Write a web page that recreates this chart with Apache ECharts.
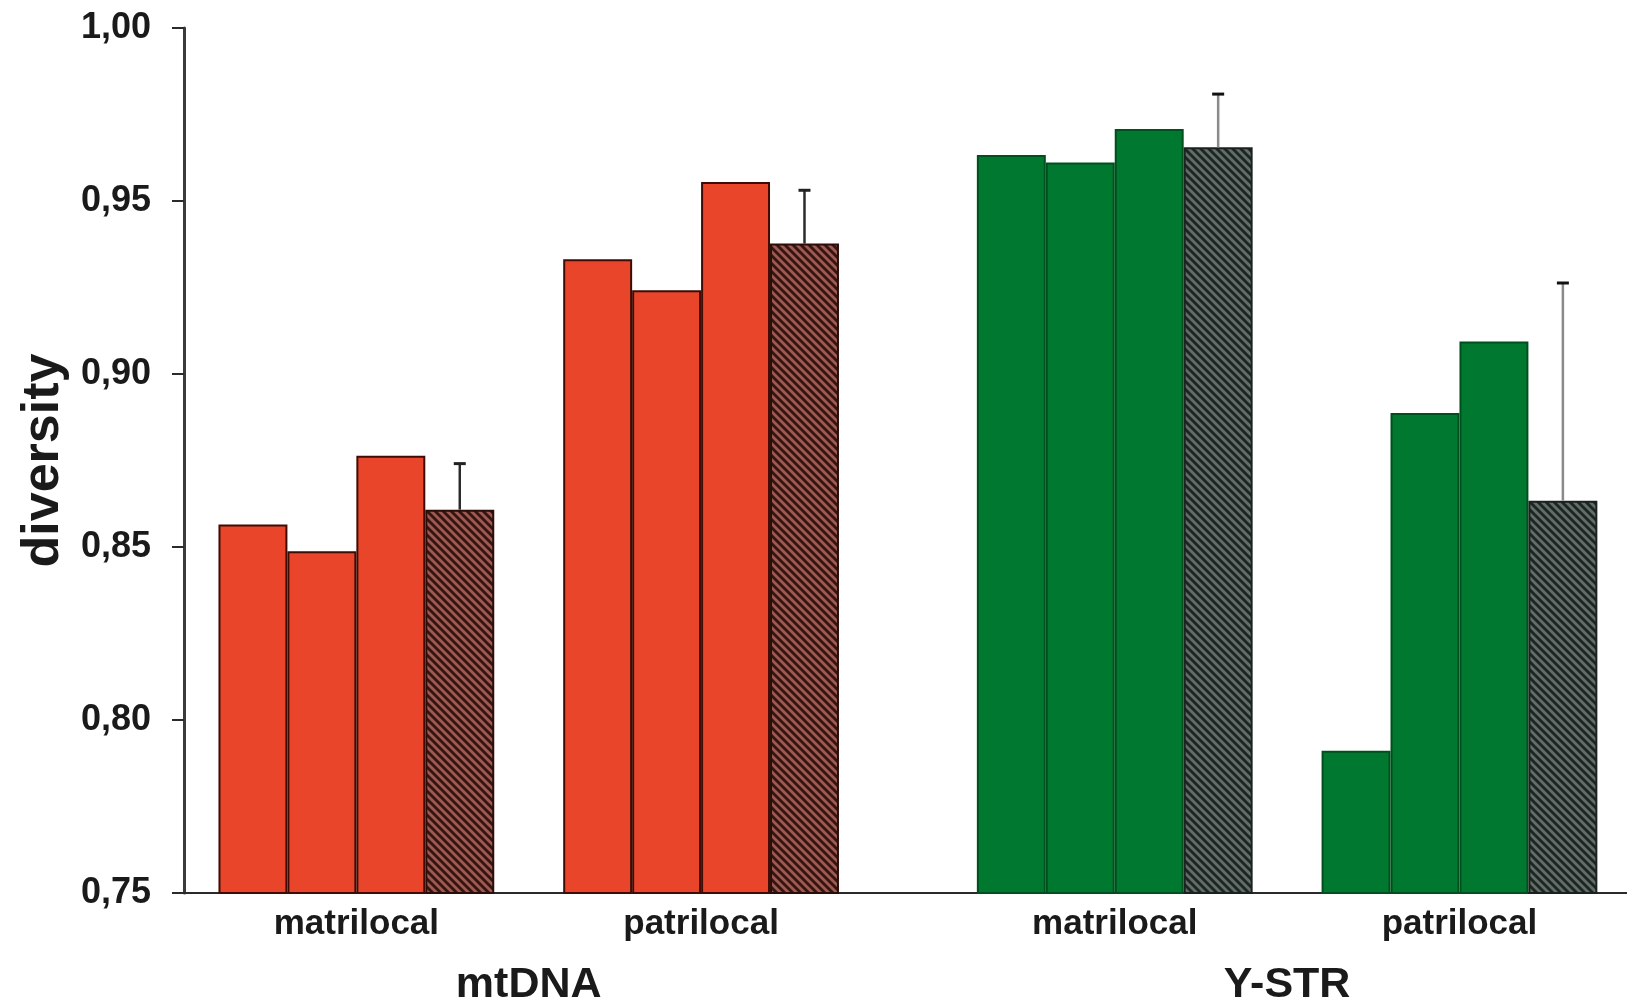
<!DOCTYPE html>
<html><head><meta charset="utf-8">
<script src="https://cdn.jsdelivr.net/npm/echarts@6/dist/echarts.min.js"></script>
<style>html,body{margin:0;padding:0;background:#fff}#c{width:1627px;height:1006px}</style>
</head><body><div id="c"></div>
<script>
// ---- data ----
const groupLabels = ['matrilocal', 'patrilocal', 'matrilocal', 'patrilocal'];
const markerLabels = ['mtDNA', 'Y-STR'];
const markerGroups = [[0, 1], [2, 3]];
const mtDNAMatrilocal = [0.8565, 0.8488, 0.8764, 0.8608];
const mtDNAPatrilocal = [0.9332, 0.9242, 0.9555, 0.9377];
const ySTRMatrilocal = [0.9633, 0.9611, 0.9708, 0.9655];
const ySTRPatrilocal = [0.7911, 0.8887, 0.9094, 0.8634];
const meanUpperError = [0.8741, 0.9531, 0.9809, 0.9263];
const yTickLabels = ['0,75', '0,80', '0,85', '0,90', '0,95', '1,00'];

// ---- layout / style ----
const groupValues = [mtDNAMatrilocal, mtDNAPatrilocal, ySTRMatrilocal, ySTRPatrilocal];
const groupStart = [0.5, 5.5, 11.5, 16.5];
const xMax = 20.93;
const yMin = 0.75, yMax = 1.0, yStep = 0.05;
const FONT = 'Liberation Sans, Arial, sans-serif';

function hatch(bg, fg) {
  const p = 8;
  const c = document.createElement('canvas');
  c.width = p; c.height = p;
  const ctx = c.getContext('2d');
  ctx.fillStyle = bg; ctx.fillRect(0, 0, p, p);
  ctx.strokeStyle = fg; ctx.lineWidth = 2.8;
  ctx.beginPath();
  for (let k = -1; k <= 1; k++) {
    ctx.moveTo(k * p - 1, -1); ctx.lineTo(k * p + p + 1, p + 1);
  }
  ctx.stroke();
  return { image: c, repeat: 'repeat' };
}

const redHatch = hatch('#341512', '#a05a52');
const greenHatch = hatch('#1d2622', '#646e68');
const palette = [
  { fill: '#e8452b', border: '#3f0c05', hatch: redHatch, hatchBorder: '#2a0d08', err: '#2b2b2b', cap: '#222' },
  { fill: '#e8452b', border: '#3f0c05', hatch: redHatch, hatchBorder: '#2a0d08', err: '#2b2b2b', cap: '#222' },
  { fill: '#00782f', border: '#00501e', hatch: greenHatch, hatchBorder: '#1a221e', err: '#8a8a8a', cap: '#111' },
  { fill: '#00782f', border: '#00501e', hatch: greenHatch, hatchBorder: '#1a221e', err: '#8a8a8a', cap: '#111' }
];

const barData = [];
const errData = [];
groupValues.forEach((vals, g) => {
  vals.forEach((v, b) => {
    const x = groupStart[g] + b + 0.5;
    const last = b === vals.length - 1;
    barData.push({
      value: [x, v],
      itemStyle: {
        color: last ? palette[g].hatch : palette[g].fill,
        borderColor: last ? palette[g].hatchBorder : palette[g].border,
        borderWidth: 2
      }
    });
    if (last) errData.push([x, v, meanUpperError[g], g]);
  });
});

const groupCenters = groupStart.map(s => s + 2);
const markerCenters = markerGroups.map(([a, b]) => (groupCenters[a] + groupCenters[b]) / 2);
function lookup(v, centers, labels) {
  for (let i = 0; i < centers.length; i++) if (Math.abs(v - centers[i]) < 1e-6) return labels[i];
  return '';
}

const chart = echarts.init(document.getElementById('c'), null, { renderer: 'canvas' });
chart.setOption({
  animation: false,
  backgroundColor: '#ffffff',
  grid: { left: 184, right: 0, top: 28, bottom: 113, containLabel: false, outerBoundsMode: 'none' },
  xAxis: [
    {
      type: 'value', min: 0, max: xMax, position: 'bottom',
      axisLine: { show: true, onZero: false, lineStyle: { color: '#2a2a2a', width: 2 } },
      axisTick: { show: false }, axisLabel: { show: false }, splitLine: { show: false }
    },
    {
      type: 'value', min: 0, max: xMax, interval: 0.5, position: 'bottom',
      axisLine: { show: false }, axisTick: { show: false }, splitLine: { show: false },
      axisLabel: {
        show: true, margin: 14, color: '#1a1a1a', fontFamily: FONT, fontWeight: 'bold', fontSize: 35,
        showMinLabel: true, showMaxLabel: true,
        formatter: v => lookup(v, groupCenters, groupLabels)
      }
    },
    {
      type: 'value', min: 0, max: xMax, interval: 0.5, position: 'bottom',
      axisLine: { show: false }, axisTick: { show: false }, splitLine: { show: false },
      axisLabel: {
        show: true, margin: 71, color: '#1a1a1a', fontFamily: FONT, fontWeight: 'bold', fontSize: 43,
        showMinLabel: true, showMaxLabel: true,
        formatter: v => lookup(v, markerCenters, markerLabels)
      }
    }
  ],
  yAxis: {
    type: 'value', min: yMin, max: yMax, interval: yStep,
    name: 'diversity', nameLocation: 'middle', nameGap: 113, nameRotate: 90,
    nameTextStyle: { color: '#1a1a1a', fontFamily: FONT, fontWeight: 'bold', fontSize: 52 },
    axisLine: { show: true, lineStyle: { color: '#3a3a3a', width: 3 } },
    axisTick: { show: true, inside: false, length: 12, lineStyle: { color: '#2a2a2a', width: 2 } },
    splitLine: { show: false },
    axisLabel: {
      margin: 33, color: '#1a1a1a', fontFamily: FONT, fontWeight: 'bold', fontSize: 36,
      formatter: v => yTickLabels[Math.round((v - yMin) / yStep)]
    }
  },
  series: [
    {
      type: 'bar', xAxisIndex: 0, yAxisIndex: 0, barWidth: '100%', clip: true,
      data: barData
    },
    {
      type: 'custom', xAxisIndex: 0, yAxisIndex: 0, z: 5, clip: false,
      data: errData,
      renderItem: (params, api) => {
        const x = api.value(0), base = api.value(1), top = api.value(2), g = api.value(3);
        const p0 = api.coord([x, base]);
        const p1 = api.coord([x, top]);
        return {
          type: 'group',
          children: [
            { type: 'line', shape: { x1: p0[0], y1: p0[1], x2: p1[0], y2: p1[1] },
              style: { stroke: palette[g].err, lineWidth: 2.5 } },
            { type: 'line', shape: { x1: p1[0] - 6, y1: p1[1], x2: p1[0] + 6, y2: p1[1] },
              style: { stroke: palette[g].cap, lineWidth: 3 } }
          ]
        };
      }
    }
  ]
});
</script>
</body></html>
